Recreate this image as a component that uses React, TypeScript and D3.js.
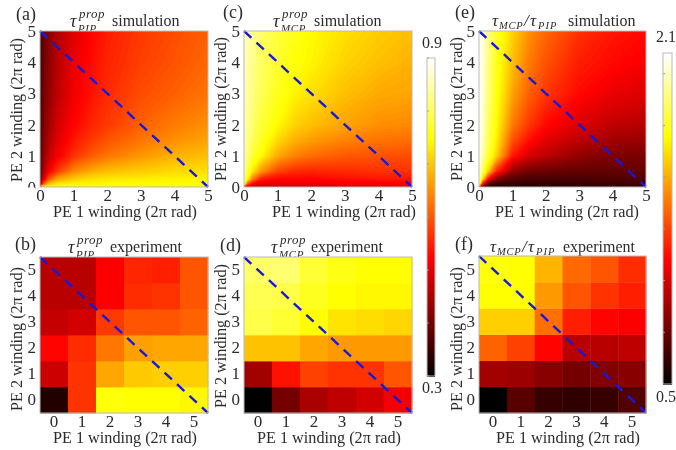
import React, { useRef, useEffect } from 'react';
import * as d3 from 'd3';

// all heat values are read as a fraction of the colour bar (0 = black, 1 = white)
const simX = [0, 0.1, 0.25, 0.5, 1, 1.5, 2, 3, 4, 5];
const simY = [0, 0.1, 0.25, 0.5, 1, 1.5, 2, 3, 4, 5];
const windings = [0, 1, 2, 3, 4, 5];

const pipSim = [
  [0.6, 0.72, 0.74, 0.75, 0.75, 0.75, 0.75, 0.75, 0.75, 0.75],
  [0.22, 0.5, 0.66, 0.72, 0.74, 0.74, 0.75, 0.75, 0.75, 0.75],
  [0.16, 0.32, 0.5, 0.62, 0.68, 0.71, 0.72, 0.73, 0.74, 0.74],
  [0.15, 0.25, 0.36, 0.46, 0.58, 0.63, 0.66, 0.68, 0.7, 0.71],
  [0.14, 0.21, 0.29, 0.36, 0.45, 0.51, 0.55, 0.6, 0.64, 0.66],
  [0.14, 0.19, 0.26, 0.33, 0.41, 0.46, 0.5, 0.55, 0.59, 0.62],
  [0.14, 0.18, 0.24, 0.31, 0.38, 0.43, 0.46, 0.52, 0.56, 0.59],
  [0.13, 0.17, 0.22, 0.28, 0.36, 0.4, 0.44, 0.49, 0.52, 0.55],
  [0.12, 0.16, 0.21, 0.27, 0.35, 0.39, 0.43, 0.47, 0.5, 0.53],
  [0.11, 0.15, 0.2, 0.26, 0.33, 0.38, 0.42, 0.46, 0.49, 0.52],
];
const mcpSim = [
  [0.4, 0.3, 0.3, 0.3, 0.3, 0.3, 0.3, 0.32, 0.33, 0.34],
  [0.8, 0.5, 0.38, 0.34, 0.34, 0.35, 0.35, 0.36, 0.36, 0.37],
  [0.88, 0.74, 0.56, 0.42, 0.38, 0.38, 0.38, 0.4, 0.41, 0.41],
  [0.9, 0.82, 0.72, 0.6, 0.48, 0.44, 0.43, 0.44, 0.45, 0.45],
  [0.92, 0.87, 0.81, 0.75, 0.63, 0.57, 0.54, 0.51, 0.5, 0.49],
  [0.93, 0.89, 0.84, 0.79, 0.7, 0.64, 0.61, 0.57, 0.55, 0.54],
  [0.93, 0.9, 0.86, 0.81, 0.75, 0.69, 0.66, 0.62, 0.59, 0.58],
  [0.94, 0.91, 0.88, 0.84, 0.78, 0.74, 0.71, 0.66, 0.63, 0.62],
  [0.94, 0.92, 0.89, 0.85, 0.8, 0.76, 0.74, 0.69, 0.66, 0.64],
  [0.95, 0.93, 0.9, 0.86, 0.81, 0.78, 0.75, 0.71, 0.68, 0.66],
];
const ratioSim = [
  [0.5, 0.1, 0.05, 0.05, 0.05, 0.05, 0.06, 0.07, 0.08, 0.09],
  [0.85, 0.4, 0.15, 0.09, 0.08, 0.08, 0.08, 0.09, 0.09, 0.1],
  [0.95, 0.7, 0.42, 0.2, 0.13, 0.11, 0.11, 0.11, 0.12, 0.12],
  [0.98, 0.85, 0.7, 0.45, 0.22, 0.17, 0.16, 0.15, 0.15, 0.15],
  [1, 0.92, 0.82, 0.7, 0.42, 0.32, 0.28, 0.22, 0.19, 0.18],
  [1, 0.95, 0.85, 0.74, 0.5, 0.4, 0.34, 0.28, 0.24, 0.23],
  [1, 0.96, 0.86, 0.76, 0.56, 0.46, 0.39, 0.33, 0.29, 0.27],
  [1, 0.97, 0.88, 0.78, 0.62, 0.52, 0.46, 0.39, 0.35, 0.33],
  [1, 0.97, 0.89, 0.79, 0.66, 0.56, 0.5, 0.42, 0.39, 0.37],
  [1, 0.98, 0.9, 0.8, 0.69, 0.59, 0.53, 0.45, 0.41, 0.39],
];

const pipExp = [
  [0.05, 0.45, 0.76, 0.75, 0.75, 0.74],
  [0.3, 0.45, 0.62, 0.67, 0.68, 0.68],
  [0.38, 0.44, 0.55, 0.61, 0.62, 0.62],
  [0.29, 0.31, 0.46, 0.5, 0.5, 0.52],
  [0.27, 0.27, 0.37, 0.44, 0.45, 0.5],
  [0.27, 0.27, 0.37, 0.43, 0.42, 0.5],
];
const mcpExp = [
  [0, 0.17, 0.25, 0.28, 0.31, 0.36],
  [0.24, 0.4, 0.47, 0.45, 0.45, 0.5],
  [0.66, 0.66, 0.62, 0.6, 0.6, 0.6],
  [0.82, 0.8, 0.75, 0.71, 0.7, 0.69],
  [0.83, 0.82, 0.78, 0.75, 0.74, 0.74],
  [0.85, 0.86, 0.8, 0.77, 0.75, 0.75],
];
const ratioExp = [
  [0, 0.13, 0.08, 0.07, 0.08, 0.12],
  [0.24, 0.23, 0.2, 0.17, 0.19, 0.2],
  [0.52, 0.47, 0.38, 0.27, 0.27, 0.28],
  [0.68, 0.68, 0.54, 0.42, 0.38, 0.37],
  [0.75, 0.75, 0.6, 0.5, 0.45, 0.42],
  [0.76, 0.75, 0.64, 0.53, 0.5, 0.44],
];

const barTicksA = [0.3, 0.4, 0.5, 0.6, 0.7, 0.8, 0.9];
const barTicksB = [0.75, 1, 1.25, 1.5, 1.75, 2];

const serif = '"Liberation Serif", "Times New Roman", serif';
const ink = '#2b2b2b';

const hot = d3
  .scaleLinear<string>()
  .domain([0, 0.375, 0.75, 1])
  .range(['#000000', '#ff0000', '#ffff00', '#ffffff'])
  .clamp(true);

const drawFrame = (g, x, y, w, h) => {
  g.append('rect')
    .attr('x', x)
    .attr('y', y)
    .attr('width', w)
    .attr('height', h)
    .attr('fill', 'none')
    .attr('stroke', '#b9b9b9')
    .attr('stroke-width', 1);
};

const styleAxis = (sel) => {
  sel.select('.domain').remove();
  sel
    .selectAll('text')
    .attr('font-family', serif)
    .attr('font-size', 17)
    .attr('fill', ink);
};

const drawSim = (svg, p) => {
  const x = d3.scaleLinear().domain([0, 5]).range([p.x, p.x + p.w]);
  const y = d3.scaleLinear().domain([0, 5]).range([p.y + p.h, p.y]);
  // contour coordinates -> data coordinates, the grid is not evenly spaced
  const ix = d3.scaleLinear().domain(simX.map((_, i) => i + 0.5)).range(simX).clamp(true);
  const iy = d3.scaleLinear().domain(simY.map((_, i) => i + 0.5)).range(simY).clamp(true);
  const path = d3.geoPath(
    d3.geoTransform({
      point(a, b) {
        this.stream.point(x(ix(a)), y(iy(b)));
      },
    })
  );
  const thresholds = d3.range(0, 129).map((d) => d / 128 - 0.002);
  const contours = d3
    .contours()
    .size([simX.length, simY.length])
    .thresholds(thresholds)(p.data.flat());
  svg
    .append('g')
    .selectAll('path')
    .data(contours)
    .join('path')
    .attr('d', path)
    .attr('fill', (d) => hot(d.value));

  svg
    .append('g')
    .attr('transform', `translate(0,${p.y + p.h})`)
    .call(d3.axisBottom(x).tickValues(windings).tickFormat(d3.format('d')).tickSize(0).tickPadding(2))
    .call(styleAxis);
  svg
    .append('g')
    .attr('transform', `translate(${p.x},0)`)
    .call(d3.axisLeft(y).tickValues(windings).tickFormat(d3.format('d')).tickSize(0).tickPadding(4))
    .call(styleAxis);

  svg
    .append('line')
    .attr('x1', x(0))
    .attr('y1', y(5))
    .attr('x2', x(5))
    .attr('y2', y(0))
    .attr('stroke', '#1818d8')
    .attr('stroke-width', 2.4)
    .attr('stroke-dasharray', '10 7');
  drawFrame(svg, p.x, p.y, p.w, p.h);
};

const drawExp = (svg, p) => {
  const x = d3.scaleBand().domain(windings).range([p.x, p.x + p.w]);
  const y = d3.scaleBand().domain(windings).range([p.y + p.h, p.y]);
  const cells = p.data.flatMap((row, j) =>
    row.map((v, i) => ({ i: windings[i], j: windings[j], v }))
  );
  svg
    .append('g')
    .selectAll('rect')
    .data(cells)
    .join('rect')
    .attr('x', (d) => x(d.i))
    .attr('y', (d) => y(d.j))
    .attr('width', x.bandwidth() + 0.4)
    .attr('height', y.bandwidth() + 0.4)
    .attr('fill', (d) => hot(d.v));

  svg
    .append('g')
    .attr('transform', `translate(0,${p.y + p.h})`)
    .call(d3.axisBottom(x).tickSize(0).tickPadding(2))
    .call(styleAxis);
  svg
    .append('g')
    .attr('transform', `translate(${p.x},0)`)
    .call(d3.axisLeft(y).tickSize(0).tickPadding(4))
    .call(styleAxis);

  svg
    .append('line')
    .attr('x1', p.x)
    .attr('y1', p.y)
    .attr('x2', p.x + p.w)
    .attr('y2', p.y + p.h)
    .attr('stroke', '#1818d8')
    .attr('stroke-width', 2.4)
    .attr('stroke-dasharray', '10 7');
  drawFrame(svg, p.x, p.y, p.w, p.h);
};

const drawBar = (svg, b) => {
  const y = d3.scaleLinear().domain(b.domain).range([b.y + b.h, b.y]);
  const t = d3.scaleLinear().domain(b.domain).range([0, 1]);
  const dv = (b.domain[1] - b.domain[0]) / 200;
  const steps = d3.range(0, 200).map((i) => b.domain[0] + dv * i);
  svg
    .append('g')
    .attr('shape-rendering', 'crispEdges')
    .selectAll('rect')
    .data(steps)
    .join('rect')
    .attr('x', b.x)
    .attr('y', (d) => y(d + dv))
    .attr('width', b.w)
    .attr('height', b.h / 200 + 1)
    .attr('fill', (d) => hot(t(d + dv / 2)));
  svg
    .append('g')
    .selectAll('line')
    .data(b.ticks)
    .join('line')
    .attr('x1', b.x)
    .attr('x2', b.x + 2)
    .attr('y1', (d) => y(d))
    .attr('y2', (d) => y(d))
    .attr('stroke', '#999');
  drawFrame(svg, b.x, b.y, b.w, b.h);
  [
    [b.domain[1], b.topY],
    [b.domain[0], b.botY],
  ].forEach(([v, yy]) => {
    svg
      .append('text')
      .attr('x', b.labelX)
      .attr('y', yy)
      .attr('font-family', serif)
      .attr('font-size', 16)
      .attr('fill', ink)
      .text(d3.format('.1f')(v));
  });
};

// title pieces sit under the panels: the subscripts get cut by the heat map
const drawTitle = (svg, t) => {
  const add = (x, y, str, size, italic) =>
    svg
      .append('text')
      .attr('x', x)
      .attr('y', y)
      .attr('font-family', serif)
      .attr('font-size', size)
      .attr('font-style', italic ? 'italic' : 'normal')
      .attr('fill', ink)
      .text(str);

  add(t.tagX, t.tagY, t.tag, 18, false);
  if (t.ratio) {
    add(t.x, t.y, 'τ', 17, true);
    add(t.x + 7, t.y + 3, 'MCP', 10.5, true).attr('letter-spacing', 0.8);
    add(t.x + 32, t.y, '/', 17, true);
    add(t.x + 38, t.y, 'τ', 17, true);
    add(t.x + 46, t.y + 3, 'PIP', 10.5, true).attr('letter-spacing', 1);
    add(t.x + t.wordDx, t.y, t.word, 16, false);
  } else {
    add(t.x, t.y + 1, 'τ', 18, true);
    add(t.x + 9, t.y - 8, 'prop', 13, true).attr('letter-spacing', 0.5);
    add(t.x + 8, t.y + 6, t.sub, 11, true).attr('letter-spacing', 0.6);
    add(t.x + t.wordDx, t.y, t.word, 16, false);
  }
};

const drawLabels = (svg, l) => {
  svg
    .append('text')
    .attr('x', l.cx)
    .attr('y', l.xBase)
    .attr('text-anchor', 'middle')
    .attr('font-family', serif)
    .attr('font-size', 16.2)
    .attr('fill', ink)
    .text('PE 1 winding (2π rad)');
  svg
    .append('text')
    .attr('transform', `translate(${l.yBase},${l.cy}) rotate(-90)`)
    .attr('text-anchor', 'middle')
    .attr('font-family', serif)
    .attr('font-size', 16.2)
    .attr('fill', ink)
    .text('PE 2 winding (2π rad)');
};

const App = () => {
  const ref = useRef(null);

  useEffect(() => {
    const svg = d3.select(ref.current);
    svg.selectAll('*').remove();

    drawTitle(svg, { tag: '(a)', tagX: 16, tagY: 20, x: 70, y: 26, sub: 'PIP', word: 'simulation', wordDx: 42 });
    drawTitle(svg, { tag: '(b)', tagX: 15, tagY: 250, x: 68, y: 252, sub: 'PIP', word: 'experiment', wordDx: 42 });
    drawTitle(svg, { tag: '(c)', tagX: 223, tagY: 18, x: 273, y: 26, sub: 'MCP', word: 'simulation', wordDx: 41 });
    drawTitle(svg, { tag: '(d)', tagX: 220, tagY: 251, x: 271, y: 252, sub: 'MCP', word: 'experiment', wordDx: 40 });
    drawTitle(svg, { tag: '(e)', tagX: 455, tagY: 18, ratio: true, x: 492, y: 26, word: 'simulation', wordDx: 76 });
    drawTitle(svg, { tag: '(f)', tagX: 455, tagY: 250, ratio: true, x: 490, y: 252, word: 'experiment', wordDx: 73 });

    drawSim(svg, { x: 40, y: 31, w: 168, h: 156, data: pipSim });
    drawSim(svg, { x: 244, y: 31, w: 168, h: 156, data: mcpSim });
    drawSim(svg, { x: 479, y: 31, w: 167, h: 156, data: ratioSim });
    drawExp(svg, { x: 40, y: 257, w: 168, h: 156, data: pipExp });
    drawExp(svg, { x: 244, y: 257, w: 168, h: 156, data: mcpExp });
    drawExp(svg, { x: 479, y: 256, w: 167, h: 157, data: ratioExp });

    // the y "0" of panel (a) is cut in half in the reference
    svg.append('rect').attr('x', 25).attr('y', 187.5).attr('width', 10).attr('height', 6).attr('fill', '#fff');

    drawLabels(svg, { cx: 125, xBase: 217, yBase: 22, cy: 110 });
    drawLabels(svg, { cx: 344, xBase: 217, yBase: 226, cy: 109 });
    drawLabels(svg, { cx: 567, xBase: 217, yBase: 462, cy: 109 });
    drawLabels(svg, { cx: 125, xBase: 443, yBase: 22, cy: 339 });
    drawLabels(svg, { cx: 329, xBase: 443, yBase: 226, cy: 336 });
    drawLabels(svg, { cx: 568, xBase: 443, yBase: 462, cy: 339 });

    drawBar(svg, { x: 427, y: 58, w: 8, h: 318, domain: [0.3, 0.9], ticks: barTicksA, labelX: 422, topY: 48, botY: 393 });
    drawBar(svg, { x: 663, y: 53, w: 9, h: 331, domain: [0.5, 2.1], ticks: barTicksB, labelX: 656, topY: 42, botY: 402 });
  }, []);

  return (
    <svg
      ref={ref}
      width={676}
      height={450}
      style={{ position: 'absolute', left: 0, top: 0, background: '#fff', filter: 'blur(0.5px)' }}
    />
  );
};

export default App;
